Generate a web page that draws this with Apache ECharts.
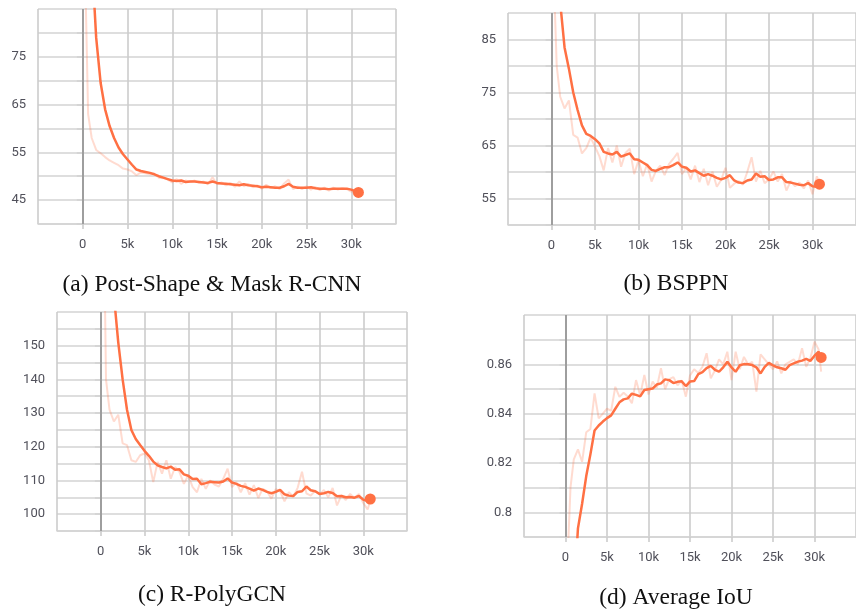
<!DOCTYPE html>
<html>
<head>
<meta charset="UTF-8">
<title>training curves</title>
<script src="https://cdn.jsdelivr.net/npm/echarts@6/dist/echarts.min.js"></script>
<style>
	html, body {
		margin: 0;
		padding: 0;
		background: #fff;
	}
	#main {
		width: 856px;
		height: 612px;
	}
</style>
</head>
<body>
<div id="main"></div>
<script type="text/javascript">
// training steps shared by every panel
var steps = [300, 600, 1000, 1500, 2000, 2500, 3000, 3500, 4000, 4500,
	5000, 5500, 6000, 6500, 7000, 7500, 8000, 8500, 9000, 9500,
	10000, 10500, 11000, 11500, 12000, 12500, 13000, 13500, 14000, 14500,
	15000, 15500, 16000, 16500, 17000, 17500, 18000, 18500, 19000, 19500,
	20000, 20500, 21000, 21500, 22000, 22500, 23000, 23500, 24000, 24500,
	25000, 25500, 26000, 26500, 27000, 27500, 28000, 28500, 29000, 29500,
	30000, 30500, 30800];

// (a) Post-Shape & Mask R-CNN
var smoothA = [140, 120, 96, 79, 69.5, 64, 60.5, 58, 56, 54.6,
	53.5, 52.4, 51.4, 51.1, 50.9, 50.7, 50.4, 50.0, 49.7, 49.4,
	49.1, 49.0, 49.1, 48.8, 48.9, 48.9, 48.8, 48.7, 48.6, 48.9,
	48.6, 48.5, 48.4, 48.3, 48.2, 48.1, 48.3, 48.1, 48.0, 47.9,
	47.7, 47.8, 47.7, 47.6, 47.6, 47.9, 48.4, 47.8, 47.6, 47.6,
	47.6, 47.7, 47.5, 47.4, 47.4, 47.3, 47.4, 47.4, 47.4, 47.4,
	47.2, 46.8, 46.6];
var rawA = [90, 63, 58, 55.5, 54.8, 54, 53.3, 52.8, 52.3, 51.6,
	51.4, 51, 50.2, 50.8, 50.6, 50.4, 50.5, 49.7, 49.6, 49.3,
	48.7, 49.4, 48.4, 49.1, 48.8, 49.1, 48.6, 48.9, 48.3, 49.8,
	48.3, 48.7, 48.1, 48.6, 47.8, 48.9, 47.9, 48.4, 47.7, 48.1,
	47.4, 48.2, 47.5, 47.9, 47.3, 48.5, 49.3, 47.3, 47.8, 47.3,
	47.9, 47.2, 47.7, 47.1, 47.6, 47.0, 47.6, 47.2, 47.5, 47.3,
	46.8, 46.2, 46.5];

// (b) BSPPN
var smoothB = [110, 98, 92, 83.5, 79.5, 75, 71.7, 68.8, 67.2, 66.8,
	66.2, 65.4, 63.8, 63.5, 63.3, 63.8, 62.9, 63.2, 63.5, 62.4,
	62.3, 61.8, 61.3, 60.4, 60.2, 60.6, 60.9, 60.9, 61.3, 61.8,
	61.0, 60.8, 60.1, 60.3, 59.8, 59.3, 59.6, 59.3, 58.9, 58.6,
	58.9, 59.4, 58.4, 58.0, 57.9, 58.4, 58.6, 59.7, 59.1, 59.2,
	58.5, 58.6, 59.0, 59.0, 58.1, 58.0, 57.8, 57.6, 57.5, 57.9,
	57.3, 57.2, 57.7];
var rawB = [95, 80, 74.2, 72, 73.5, 67, 66.5, 63.5, 64.5, 66.5,
	64.8, 63, 60.3, 64.5, 61.8, 65, 61, 63.6, 64.4, 59.6,
	62.2, 59.2, 61.5, 58.2, 60.2, 61.2, 59.4, 61.5, 62.5, 63.6,
	59.6, 60.8, 58.6, 61.2, 58.1, 60.6, 57.5, 60.1, 57.2, 58.5,
	60.8, 57.0, 57.8, 58.3, 57.6, 60.0, 62.8, 58.2, 60.2, 57.9,
	58.6, 60.1, 58.2, 59.6, 56.5, 58.3, 57.3, 58.0, 56.9, 58.4,
	55.8, 59.2, 57.9];

// (c) R-PolyGCN
var smoothC = [260, 220, 190, 165, 151, 140, 131, 125, 122.3, 120.5,
	118.8, 117.3, 115.6, 114.5, 114.0, 113.6, 114.1, 113.2, 113.3, 111.8,
	111.4, 110.4, 110.5, 108.9, 109.2, 109.6, 109.5, 109.4, 109.7, 110.6,
	109.4, 109.0, 108.4, 108.1, 107.6, 107.0, 107.6, 107.2, 106.6, 106.2,
	106.6, 107.2, 105.9, 105.5, 105.4, 106.6, 106.8, 108.2, 107.1, 106.8,
	106.0, 106.2, 106.6, 106.3, 105.3, 105.4, 105.0, 105.1, 104.9, 105.4,
	104.3, 104.0, 104.5];
var rawC = [200, 140, 131, 127.5, 129.5, 121, 120.5, 116, 115.5, 117.5,
	118, 116, 109.5, 115.5, 112, 116, 110.5, 114, 112.5, 109,
	111.5, 108, 106.5, 110.5, 107.5, 110, 108.8, 108.2, 110.5, 113.5,
	108.0, 109.5, 106.5, 109.2, 105.8, 108.6, 104.8, 107.5, 106.8, 104.6,
	107.4, 106.8, 103.8, 106.5, 105.2, 107.8, 112.6, 106.2, 105.5, 107.0,
	105.8, 107.2, 105.0, 107.8, 102.6, 105.6, 104.2, 106.0, 104.8, 106.0,
	103.3, 101.4, 104.0];

// (d) Average IoU
var smoothD = [0.70, 0.73, 0.765, 0.7935, 0.8035, 0.8147, 0.8235, 0.8332, 0.8352, 0.8368,
	0.8382, 0.8393, 0.8420, 0.8446, 0.8458, 0.8462, 0.8481, 0.8476, 0.8470, 0.8496,
	0.8499, 0.8502, 0.8518, 0.8523, 0.8539, 0.8536, 0.8524, 0.8529, 0.8531, 0.8512,
	0.8530, 0.8532, 0.8560, 0.8568, 0.8585, 0.8594, 0.8578, 0.8570, 0.8588, 0.8610,
	0.8588, 0.8570, 0.8596, 0.8601, 0.8600, 0.8597, 0.8588, 0.8563, 0.8590, 0.8606,
	0.8596, 0.8588, 0.8584, 0.8578, 0.8597, 0.8604, 0.8611, 0.8615, 0.8622, 0.8614,
	0.8635, 0.8651, 0.8628];
var rawD = [0.785, 0.81, 0.8215, 0.8255, 0.8205, 0.8325, 0.8338, 0.8482, 0.8381, 0.8400,
	0.8420, 0.8412, 0.8509, 0.8468, 0.8485, 0.8470, 0.8442, 0.8536, 0.8475, 0.8557,
	0.8478, 0.8530, 0.8505, 0.8584, 0.8500, 0.8540, 0.8548, 0.8515, 0.8535, 0.8469,
	0.8555, 0.8580, 0.8565, 0.8590, 0.8645, 0.8543, 0.8575, 0.8620, 0.8600, 0.8651,
	0.8536, 0.8651, 0.8580, 0.8630, 0.8600, 0.8610, 0.8489, 0.8640, 0.8620, 0.8600,
	0.8580, 0.8612, 0.8563, 0.8600, 0.8610, 0.8620, 0.8600, 0.8665, 0.8590, 0.8625,
	0.8692, 0.8660, 0.8570];

var captions = ['(a) Post-Shape & Mask R-CNN', '(b) BSPPN', '(c) R-PolyGCN', '(d) Average IoU'];
var yMin = [40, 50, 95, 0.79];
var yMax = [85, 90, 160, 0.88];
var yStep = [5, 5, 5, 0.01];
var yLabelEvery = [[45, 10], [55, 10], [100, 10], [0.80, 0.02]];

var grids = [
	{left: 38, top: 9, width: 358, height: 215},
	{left: 508, top: 13, width: 352, height: 212},
	{left: 57, top: 312, width: 350, height: 219},
	{left: 524, top: 315, width: 338, height: 222}
];
var capPos = [[212, 285], [676, 284], [212, 595], [676, 598]];

var smooth = [smoothA, smoothB, smoothC, smoothD];
var raw = [rawA, rawB, rawC, rawD];

function pairs(ys) {
	var out = [];
	for (var i = 0; i < ys.length; i++) {
		out.push([steps[i], ys[i]]);
	}
	return out;
}

var orange = '#ff7043';
var labelColor = '#50505a';
var gridColor = '#d3d3d3';

var xAxes = [], yAxes = [], series = [], graphics = [];
for (var k = 0; k < 4; k++) {
	(function (k) {
		xAxes.push({
			type: 'value', gridIndex: k, min: -5000, max: 35000, interval: 5000,
			axisLine: {show: true, lineStyle: {color: gridColor, width: 1.6}},
			axisTick: {show: true, length: 5, lineStyle: {color: '#cccccc', width: 1.6}},
			splitLine: {show: true, lineStyle: {color: '#cccccc', width: 1.6}},
			axisLabel: {
				margin: 14, color: labelColor, fontSize: 13, fontFamily: 'Roboto',
				showMinLabel: false, showMaxLabel: false,
				formatter: function (v) {
					if (v < 0 || v > 30000) return '';
					return v === 0 ? '0' : (v / 1000) + 'k';
				}
			}
		});
		yAxes.push({
			type: 'value', gridIndex: k, min: yMin[k], max: yMax[k], interval: yStep[k],
			axisLine: {show: false},
			axisTick: {show: true, length: 6, lineStyle: {color: gridColor, width: 1.6}},
			splitLine: {show: true, lineStyle: {color: gridColor, width: 1.6}},
			axisLabel: {
				margin: 12, color: labelColor, fontSize: 13, fontFamily: 'Roboto',
				showMaxLabel: false,
				formatter: function (v) {
					var base = yLabelEvery[k][0], step = yLabelEvery[k][1];
					var r = (v - base) / step;
					if (v < base - 1e-9 || Math.abs(r - Math.round(r)) > 1e-6) return '';
					if (k === 3) return String(Math.round(v * 100) / 100);
					return String(Math.round(v));
				}
			}
		});
		series.push({
			type: 'line', xAxisIndex: k, yAxisIndex: k, data: pairs(raw[k]),
			showSymbol: false, silent: true, clip: true,
			lineStyle: {color: 'rgba(255,112,67,0.25)', width: 2},
			markLine: {
				silent: true, symbol: 'none', label: {show: false},
				lineStyle: {color: '#9e9e9e', width: 2, type: 'solid'},
				data: [{xAxis: 0}]
			}
		});
		series.push({
			type: 'line', xAxisIndex: k, yAxisIndex: k, data: pairs(smooth[k]),
			showSymbol: false, silent: true, clip: true,
			lineStyle: {color: orange, width: 2.5}
		});
		var last = smooth[k].length - 1;
		series.push({
			type: 'scatter', xAxisIndex: k, yAxisIndex: k,
			data: [[steps[last], smooth[k][last]]],
			symbolSize: 11, itemStyle: {color: orange, opacity: 1}, silent: true
		});
		graphics.push({
			type: 'text', x: capPos[k][0], y: capPos[k][1],
			style: {
				text: captions[k], fill: '#111',
				font: '23.5px "Liberation Serif", "Times New Roman", serif',
				align: 'center', verticalAlign: 'middle'
			}
		});
	})(k);
}

var myChart = echarts.init(document.getElementById('main'));
myChart.setOption({
	animation: false,
	grid: grids,
	xAxis: xAxes,
	yAxis: yAxes,
	series: series,
	graphic: graphics
});
</script>
</body>
</html>
